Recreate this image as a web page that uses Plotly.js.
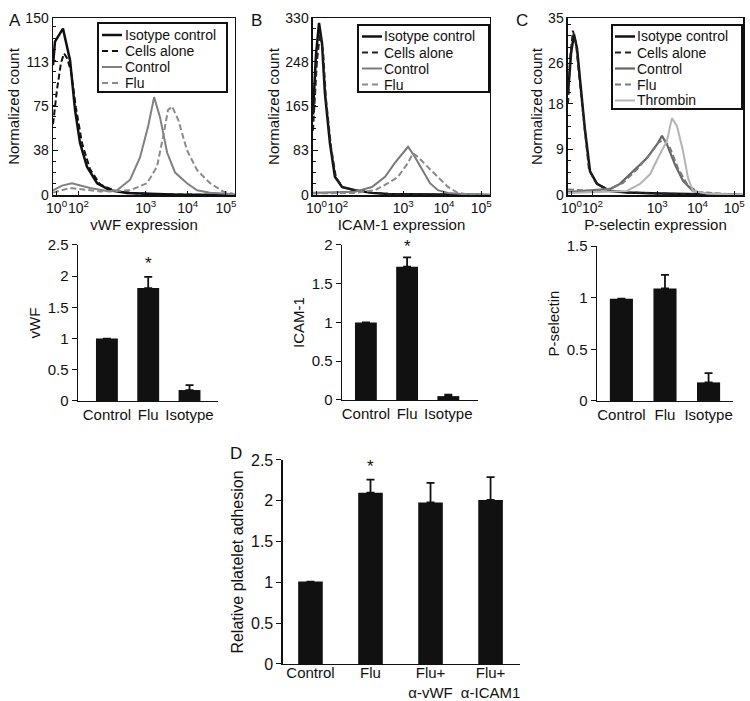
<!DOCTYPE html>
<html>
<head>
<meta charset="utf-8">
<script src="https://cdn.plot.ly/plotly-3.0.1.min.js"></script>
<style>html,body{margin:0;padding:0;background:#fff;}#chart{width:750px;height:701px;}</style>
</head>
<body>
<div id="chart"></div>
<script>
// ---------- Histogram data (x = display channel 0-1024 on logicle-like axis) ----------
const histTickVals = [20, 143, 522, 758, 973];
const histTickText = ['10<sup>0</sup>', '10<sup>2</sup>', '10<sup>3</sup>', '10<sup>4</sup>', '10<sup>5</sup>'];

// Panel A (vWF)
const aIsoX = [0, 11, 56, 96, 124, 152, 191, 248, 321, 416, 546, 715, 1024];
const aIsoY = [110, 130, 141, 114, 72, 44, 24, 10, 4, 1.7, 1, 0.3, 0];
const aCellsX = [0, 22, 45, 62, 79, 101, 129, 163, 208, 265, 349, 462, 602, 1024];
const aCellsY = [60, 89, 112, 120, 116, 105, 74, 44, 22, 9, 3.5, 1.5, 0.6, 0];
const aCtrlX = [0, 51, 107, 208, 321, 360, 434, 490, 535, 569, 602, 642, 687, 726, 754, 811, 884, 980, 1024];
const aCtrlY = [4, 8, 10, 6, 3, 4, 13, 32, 58, 83, 66, 36, 19, 14, 10, 4, 2, 1, 0.5];
const aFluX = [0, 96, 265, 434, 529, 585, 619, 647, 670, 704, 754, 811, 884, 957, 1013];
const aFluY = [2, 6, 3, 4, 10, 24, 49, 72, 75, 64, 38, 21, 10, 3, 1];

// Panel B (ICAM-1)
const bIsoX = [0, 17, 35, 52, 69, 98, 127, 168, 243, 341, 434, 619, 1024];
const bIsoY = [150, 260, 321, 284, 190, 97, 34, 15, 9, 4, 2, 1, 0];
const bCellsX = [0, 23, 40, 58, 75, 104, 133, 174, 249, 347, 445, 619, 1024];
const bCellsY = [120, 250, 300, 270, 180, 90, 32, 14, 8, 4, 2, 1, 0];
const bCtrlX = [0, 243, 341, 417, 474, 550, 590, 631, 677, 723, 781, 862, 1024];
const bCtrlY = [4, 6, 15, 34, 60, 90, 71, 47, 22, 9, 4, 2, 0];
const bFluX = [0, 243, 359, 434, 492, 550, 579, 607, 665, 723, 781, 839, 897, 1024];
const bFluY = [3, 4, 9, 22, 34, 60, 78, 71, 52, 34, 15, 4, 1, 0];

// Panel C (P-selectin)
const cIsoX = [0, 18, 35, 53, 70, 99, 129, 170, 246, 345, 538, 772, 1024];
const cIsoY = [20, 28, 31.8, 29, 23, 13, 4.7, 2.2, 0.8, 0.5, 0.3, 0.1, 0];
const cCellsX = [0, 12, 29, 47, 64, 94, 123, 164, 240, 345, 538, 772, 1024];
const cCellsY = [18, 27, 32.5, 30, 24, 14, 5, 2.4, 0.9, 0.5, 0.3, 0.1, 0];
const cCtrlX = [0, 246, 304, 380, 462, 521, 550, 579, 626, 673, 731, 813, 1024];
const cCtrlY = [0.6, 1.2, 2.2, 4.7, 7.3, 10, 11.7, 10, 6, 2.8, 0.8, 0.3, 0];
const cFluX = [0, 146, 246, 322, 404, 480, 527, 562, 597, 644, 696, 755, 1024];
const cFluY = [1.1, 0.8, 1.2, 2.4, 5.1, 8.1, 10.3, 11, 9.3, 5.3, 2.2, 0.6, 0];
const cThrX = [0, 345, 421, 480, 538, 579, 608, 638, 673, 702, 731, 813, 1024];
const cThrY = [0.4, 0.8, 2.2, 4.1, 8.1, 10.7, 15.2, 13.6, 8.7, 3.4, 0.8, 0.3, 0];

// ---------- Bar data ----------
const barCats = ['Control', 'Flu', 'Isotype'];
const vwfVals = [1.0, 1.81, 0.175];
const vwfErr = [0, 0.18, 0.08];
const icamVals = [1.0, 1.72, 0.05];
const icamErr = [0, 0.12, 0.02];
const pselVals = [0.99, 1.09, 0.18];
const pselErr = [0, 0.13, 0.09];
const adhCats = ['Control', 'Flu', 'Flu+<br>α-vWF', 'Flu+<br>α-ICAM1'];
const adhVals = [1.01, 2.10, 1.98, 2.01];
const adhErr = [0, 0.16, 0.24, 0.28];

const FONT = 'Liberation Sans, Arial, Helvetica, sans-serif';
const INK = '#111111';
const DASH = '6px,3px';

function line(x, y, name, color, dash, width, xa, ya) {
  return {type: 'scatter', mode: 'lines', x: x, y: y, name: name, xaxis: xa, yaxis: ya,
          showlegend: false, line: {color: color, dash: dash, width: width}, hoverinfo: 'skip'};
}
function bars(cats, vals, errs, xa, ya, w) {
  return {type: 'bar', x: cats, y: vals, xaxis: xa, yaxis: ya, width: w, showlegend: false,
          marker: {color: INK, line: {width: 0}},
          error_y: {type: 'data', symmetric: false, array: errs, arrayminus: errs.map(() => 0),
                    color: INK, thickness: 1.8, width: 4}};
}

const histA = [
  line(aIsoX, aIsoY, 'Isotype control', INK, 'solid', 2.5, 'x', 'y'),
  line(aCellsX, aCellsY, 'Cells alone', INK, DASH, 2, 'x', 'y'),
  line(aCtrlX, aCtrlY, 'Control', '#808080', 'solid', 2, 'x', 'y'),
  line(aFluX, aFluY, 'Flu', '#8a8a8a', DASH, 2, 'x', 'y')
];
const histB = [
  line(bIsoX, bIsoY, 'Isotype control', INK, 'solid', 2.5, 'x2', 'y2'),
  line(bCellsX, bCellsY, 'Cells alone', '#222222', DASH, 2, 'x2', 'y2'),
  line(bCtrlX, bCtrlY, 'Control', '#7a7a7a', 'solid', 2, 'x2', 'y2'),
  line(bFluX, bFluY, 'Flu', '#8a8a8a', DASH, 2, 'x2', 'y2')
];
const histC = [
  line(cIsoX, cIsoY, 'Isotype control', INK, 'solid', 2.5, 'x3', 'y3'),
  line(cCellsX, cCellsY, 'Cells alone', '#222222', DASH, 2, 'x3', 'y3'),
  line(cCtrlX, cCtrlY, 'Control', '#666666', 'solid', 2.2, 'x3', 'y3'),
  line(cFluX, cFluY, 'Flu', '#7a7a7a', DASH, 2, 'x3', 'y3'),
  line(cThrX, cThrY, 'Thrombin', '#b4b4b4', 'solid', 2, 'x3', 'y3')
];

const traces = [].concat(histA, histB, histC, [
  bars(barCats, vwfVals, vwfErr, 'x4', 'y4', 0.53),
  bars(barCats, icamVals, icamErr, 'x5', 'y5', 0.53),
  bars(barCats, pselVals, pselErr, 'x6', 'y6', 0.53),
  bars(adhCats, adhVals, adhErr, 'x7', 'y7', 0.41)
]);

function histX(domain, anchor, title) {
  return {domain: domain, anchor: anchor, range: [0, 1024], tickmode: 'array', tickvals: histTickVals,
          ticktext: histTickText, tickangle: 0, ticks: 'inside', ticklen: 4, tickcolor: INK, showline: true,
          mirror: true, linecolor: INK, linewidth: 1.5, showgrid: false, zeroline: false, fixedrange: true,
          tickfont: {size: 14, color: INK}, title: {text: title, font: {size: 15, color: INK}, standoff: 2}};
}
function histY(domain, anchor, vals) {
  const step = vals[1] - vals[0];
  return {domain: domain, anchor: anchor, range: [0, vals[vals.length - 1]], tickmode: 'array', tickvals: vals,
          ticks: 'inside', ticklen: 5, tickcolor: INK, showline: true, mirror: true, linecolor: INK,
          linewidth: 1.5, showgrid: false, zeroline: false, fixedrange: true,
          minor: {ticks: 'inside', ticklen: 3, dtick: step / 4, tick0: 0, tickcolor: INK, showgrid: false},
          tickfont: {size: 14, color: INK}, title: {text: 'Normalized count', font: {size: 15, color: INK}, standoff: 2}};
}
function barX(domain, anchor, range, size) {
  return {domain: domain, anchor: anchor, type: 'category', range: range, ticks: '', showline: true,
          linecolor: INK, linewidth: 1.5, showgrid: false, zeroline: false, fixedrange: true,
          tickfont: {size: size, color: INK}};
}
function barY(domain, anchor, range, dtick, title, size) {
  return {domain: domain, anchor: anchor, range: range, dtick: dtick, tick0: 0, ticks: 'outside', ticklen: 5,
          tickcolor: INK, showline: true, linecolor: INK, linewidth: 1.5, showgrid: false, zeroline: false,
          fixedrange: true, tickfont: {size: size, color: INK},
          title: {text: title, font: {size: size, color: INK}, standoff: 3}};
}

// ---------- Hand-placed legend boxes (layout only, built from the traces' own names/styles) ----------
const shapes = [];
const annotations = [];
function px(x) { return x / 750; }
function py(y) { return 1 - y / 701; }
function addLegend(entries, box, row0, rowStep, s0, s1, tx) {
  shapes.push({type: 'rect', xref: 'paper', yref: 'paper', x0: px(box[0]), x1: px(box[1]),
               y0: py(box[3]), y1: py(box[2]), line: {color: INK, width: 2}, fillcolor: '#ffffff', layer: 'above'});
  entries.forEach(function (t, i) {
    const yy = py(row0 + i * rowStep);
    shapes.push({type: 'line', xref: 'paper', yref: 'paper', x0: px(s0), x1: px(s1), y0: yy, y1: yy,
                 line: {color: t.line.color, width: t.line.width, dash: t.line.dash === 'solid' ? 'solid' : '6px,4px'},
                 layer: 'above'});
    annotations.push({text: t.name, xref: 'paper', yref: 'paper', x: px(tx), y: yy, xanchor: 'left',
                      yanchor: 'middle', showarrow: false, borderpad: 0, font: {size: 14, color: INK}});
  });
}
addLegend(histA, [98, 227, 23, 92], 35, 16, 102, 122, 124);
addLegend(histB, [358, 489, 25, 92], 36.5, 16, 362, 382, 383);
addLegend(histC, [612, 742, 25, 109], 36.5, 16, 615, 635, 636);

annotations.push(
  {text: 'A', xref: 'paper', yref: 'paper', x: px(7), y: py(9), showarrow: false, font: {size: 17}},
  {text: 'B', xref: 'paper', yref: 'paper', x: px(256), y: py(9), showarrow: false, font: {size: 17}},
  {text: 'C', xref: 'paper', yref: 'paper', x: px(530), y: py(9), showarrow: false, font: {size: 17}},
  {text: 'D', xref: 'paper', yref: 'paper', x: px(228), y: py(453), showarrow: false, font: {size: 17}},
  {text: '*', xref: 'x4', yref: 'y4', x: 'Flu', y: 2.2, showarrow: false, font: {size: 17}, yanchor: 'middle'},
  {text: '*', xref: 'x5', yref: 'y5', x: 'Flu', y: 1.98, showarrow: false, font: {size: 17}, yanchor: 'middle'},
  {text: '*', xref: 'x7', yref: 'y7', x: 'Flu', y: 2.42, showarrow: false, font: {size: 17}, yanchor: 'middle'}
);

const layout = {
  width: 750, height: 701, margin: {l: 0, r: 0, t: 0, b: 0},
  paper_bgcolor: '#ffffff', plot_bgcolor: '#ffffff',
  font: {family: FONT, color: INK},
  showlegend: false,
  xaxis: histX([0.0707, 0.3133], 'y', 'vWF expression'),
  yaxis: histY([0.7218, 0.9743], 'x', [0, 38, 75, 113, 150]),
  xaxis2: histX([0.4173, 0.6533], 'y2', 'ICAM-1 expression'),
  yaxis2: histY([0.7218, 0.9743], 'x2', [0, 83, 165, 248, 330]),
  xaxis3: histX([0.7573, 0.9907], 'y3', 'P-selectin expression'),
  yaxis3: histY([0.7218, 0.9743], 'x3', [0, 9, 18, 26, 35]),
  xaxis4: barX([0.104, 0.2907], 'y4', [-0.70, 2.69], 15),
  yaxis4: barY([0.428, 0.6505], 'x4', [0, 2.5], 0.5, 'vWF', 15),
  xaxis5: barX([0.456, 0.6373], 'y5', [-0.58, 2.72], 15),
  yaxis5: barY([0.4294, 0.6505], 'x5', [0, 2], 0.5, 'ICAM-1', 15),
  xaxis6: barX([0.796, 0.9773], 'y6', [-0.56, 2.56], 15),
  yaxis6: barY([0.428, 0.649], 'x6', [0, 1.5], 0.5, 'P-selectin', 15),
  xaxis7: Object.assign(barX([0.3773, 0.6933], 'y7', [-0.458, 3.49], 15), {ticklabelstandoff: -5}),
  yaxis7: barY([0.0528, 0.3438], 'x7', [0, 2.5], 0.5, 'Relative platelet adhesion', 16),
  shapes: shapes,
  annotations: annotations
};

Plotly.newPlot('chart', traces, layout, {staticPlot: true, displayModeBar: false});
</script>
</body>
</html>
